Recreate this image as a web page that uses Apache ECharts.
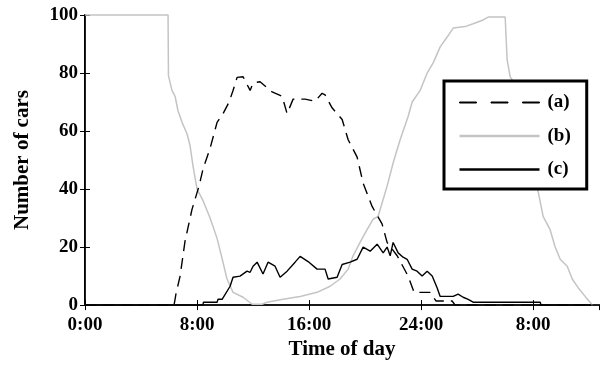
<!DOCTYPE html>
<html><head><meta charset="utf-8">
<script src="https://cdn.jsdelivr.net/npm/echarts@6/dist/echarts.min.js"></script>
<style>html,body{margin:0;padding:0;background:#fff}#c{width:603px;height:365px}</style>
</head><body><div id="c"></div>
<script>
// hours since 0:00 of day 1 ; values = number of cars
const seriesNames = ['(a)', '(b)', '(c)'];
const xTicks = [0, 8, 16, 24, 32];
const xTickLabels = ['0:00', '8:00', '16:00', '24:00', '8:00'];
const yTicks = [0, 20, 40, 60, 80, 100];

const aTime  = [0, 6.36, 6.5, 6.79, 7.14, 7.64, 8.14, 8.43, 8.93, 9.43, 9.86, 10.29, 10.57, 10.86, 11.29, 11.79, 12.0, 12.5, 13.36, 14.07, 14.43, 14.86, 15.71, 16.43, 16.93, 17.14, 17.64, 18.36, 18.79, 19.43, 19.86, 20.5, 21.21, 21.57, 22.29, 23.07, 23.5, 24.64, 25.07, 26.21, 26.43, 36.7];
const aValue = [0, 0, 4, 10, 22, 33, 41, 47, 54, 63, 66, 70, 74, 78.5, 78.7, 74, 76.6, 77, 73.5, 72, 66, 71, 71, 70.3, 73, 72.5, 68, 64, 57, 51, 42, 34, 28, 21.6, 17, 10, 4.4, 4.4, 1.4, 1.4, 0, 0];

const bTime  = [0, 5.93, 5.96, 6.21, 6.43, 6.64, 6.93, 7.29, 7.5, 7.71, 8.0, 8.43, 8.93, 9.43, 9.79, 10.14, 10.57, 11.29, 11.93, 12.64, 13.0, 14.14, 15.36, 16.57, 17.5, 18.21, 18.79, 19.14, 19.64, 20.14, 20.57, 20.93, 21.57, 22.0, 22.5, 23.07, 23.36, 23.93, 24.43, 24.86, 25.36, 25.86, 26.29, 27.14, 27.71, 28.43, 28.79, 30.0, 30.14, 30.36, 30.57, 31.43, 32.36, 32.71, 33.21, 33.57, 33.93, 34.43, 34.79, 35.21, 35.71, 36.07, 36.21, 36.7];
const bValue = [100, 100, 79, 74, 72, 67, 63, 59, 55, 48, 40, 36, 30, 23, 16, 9, 4.4, 2.7, 0.3, 0.3, 1, 2, 3, 4.4, 6.5, 9, 12.4, 17, 21.6, 26, 29.6, 30.6, 41, 49, 57, 65, 70, 74, 80, 83.5, 89, 92.4, 95.5, 96, 97, 98.3, 99.3, 99.3, 84.5, 78.7, 77, 58, 39, 30.6, 26, 20, 15.8, 13.4, 9, 6, 3, 1, 0, 0];

const cTime  = [0, 8.43, 8.45, 9.43, 9.5, 9.79, 10.36, 10.57, 11.07, 11.57, 11.79, 12.0, 12.29, 12.71, 13.07, 13.57, 13.93, 14.43, 15.0, 15.36, 15.93, 16.57, 17.14, 17.36, 18.0, 18.36, 18.93, 19.43, 19.86, 20.36, 20.86, 21.29, 21.57, 21.79, 22.0, 22.36, 22.71, 23.0, 23.36, 23.71, 24.07, 24.43, 24.79, 25.14, 25.36, 26.29, 26.64, 27.0, 27.36, 27.71, 32.5, 32.57, 36.7];
const cValue = [0, 0, 1, 1, 2, 2, 6.5, 9.6, 10, 11.7, 11.3, 13.4, 14.8, 10.7, 14.8, 13.4, 9.6, 11.7, 14.8, 16.8, 15, 12.4, 12.4, 9, 9.6, 14, 14.8, 15.8, 20, 18.6, 21, 18, 20, 17, 21.6, 18, 16.5, 15.8, 12.4, 11.7, 10, 11.7, 10, 6, 3, 3, 3.8, 2.7, 2, 1, 1, 0, 0];

const zip = (t, v) => t.map((x, i) => [x, v[i]]);
const font = '"Liberation Serif", "Times New Roman", serif';
const fmtX = v => { const i = xTicks.indexOf(v); return i >= 0 ? xTickLabels[i] : ''; };
const dashIcon = 'path://M0,0H17V1H0Z M31.5,0H48.5V1H31.5Z M63,0H80V1H63Z';

const chart = echarts.init(document.getElementById('c'), null, {renderer: 'canvas'});
chart.setOption({
  animation: false,
  backgroundColor: '#fff',
  grid: {left: 85, right: 4, top: 15, bottom: 59, containLabel: false},
  xAxis: [{
    type: 'value', min: 0, max: 36.7, interval: 8, position: 'bottom',
    name: 'Time of day', nameLocation: 'middle', nameGap: 31,
    nameTextStyle: {fontFamily: font, fontWeight: 'bold', fontSize: 21, color: '#000'},
    axisLine: {show: true, lineStyle: {color: '#000', width: 2}},
    axisTick: {show: true, inside: true, length: 5, lineStyle: {color: '#000', width: 1}},
    axisLabel: {formatter: fmtX, showMaxLabel: false, margin: 10, fontFamily: font, fontWeight: 'bold', fontSize: 19, color: '#000'},
    splitLine: {show: false}
  }, {
    type: 'value', min: 0, max: 36.7, interval: 8, position: 'top',
    axisLine: {show: true, lineStyle: {color: '#222', width: 1.5}},
    axisTick: {show: true, inside: true, length: 5, lineStyle: {color: '#000', width: 1}},
    axisLabel: {show: false}, splitLine: {show: false}
  }],
  yAxis: [{
    type: 'value', min: 0, max: 100, interval: 20, position: 'left',
    name: 'Number of cars', nameLocation: 'middle', nameGap: 52,
    nameTextStyle: {fontFamily: font, fontWeight: 'bold', fontSize: 21, color: '#000'},
    axisLine: {show: true, lineStyle: {color: '#000', width: 2}},
    axisTick: {show: true, inside: true, length: 5, lineStyle: {color: '#000', width: 1}},
    axisLabel: {margin: 7, fontFamily: font, fontWeight: 'bold', fontSize: 19, color: '#000'},
    splitLine: {show: false}
  }, {
    type: 'value', min: 0, max: 100, interval: 20, position: 'right',
    axisLine: {show: true, lineStyle: {color: '#222', width: 1}},
    axisTick: {show: true, inside: true, length: 5, lineStyle: {color: '#000', width: 1}},
    axisLabel: {show: false}, splitLine: {show: false}
  }],
  legend: {
    orient: 'vertical', left: 444, top: 81,
    padding: [12, 16, 10, 15],
    itemWidth: 80, itemHeight: 2.5, itemGap: 14.5,
    backgroundColor: '#fff', borderColor: '#000', borderWidth: 3, borderRadius: 0,
    textStyle: {fontFamily: font, fontWeight: 'bold', fontSize: 19, lineHeight: 19, color: '#000', padding: [0, 0, 0, 3]},
    data: [
      {name: seriesNames[0], icon: dashIcon, itemStyle: {color: '#000', borderColor: '#000', borderWidth: 1}},
      {name: seriesNames[1], icon: 'rect', itemStyle: {color: '#c4c4c4', borderWidth: 0}},
      {name: seriesNames[2], icon: 'rect', itemStyle: {color: '#000', borderWidth: 0}}
    ]
  },
  series: [
    {name: seriesNames[0], type: 'line', data: zip(aTime, aValue), symbol: 'none', z: 3,
     lineStyle: {color: '#000', width: 1.4, type: [11, 7]}, itemStyle: {color: '#000'}},
    {name: seriesNames[1], type: 'line', data: zip(bTime, bValue), symbol: 'none', z: 2, clip: false,
     lineStyle: {color: '#c4c4c4', width: 1.5}, itemStyle: {color: '#c4c4c4'}},
    {name: seriesNames[2], type: 'line', data: zip(cTime, cValue), symbol: 'none', z: 4,
     lineStyle: {color: '#000', width: 1.4}, itemStyle: {color: '#000'}}
  ]
});
</script></body></html>
